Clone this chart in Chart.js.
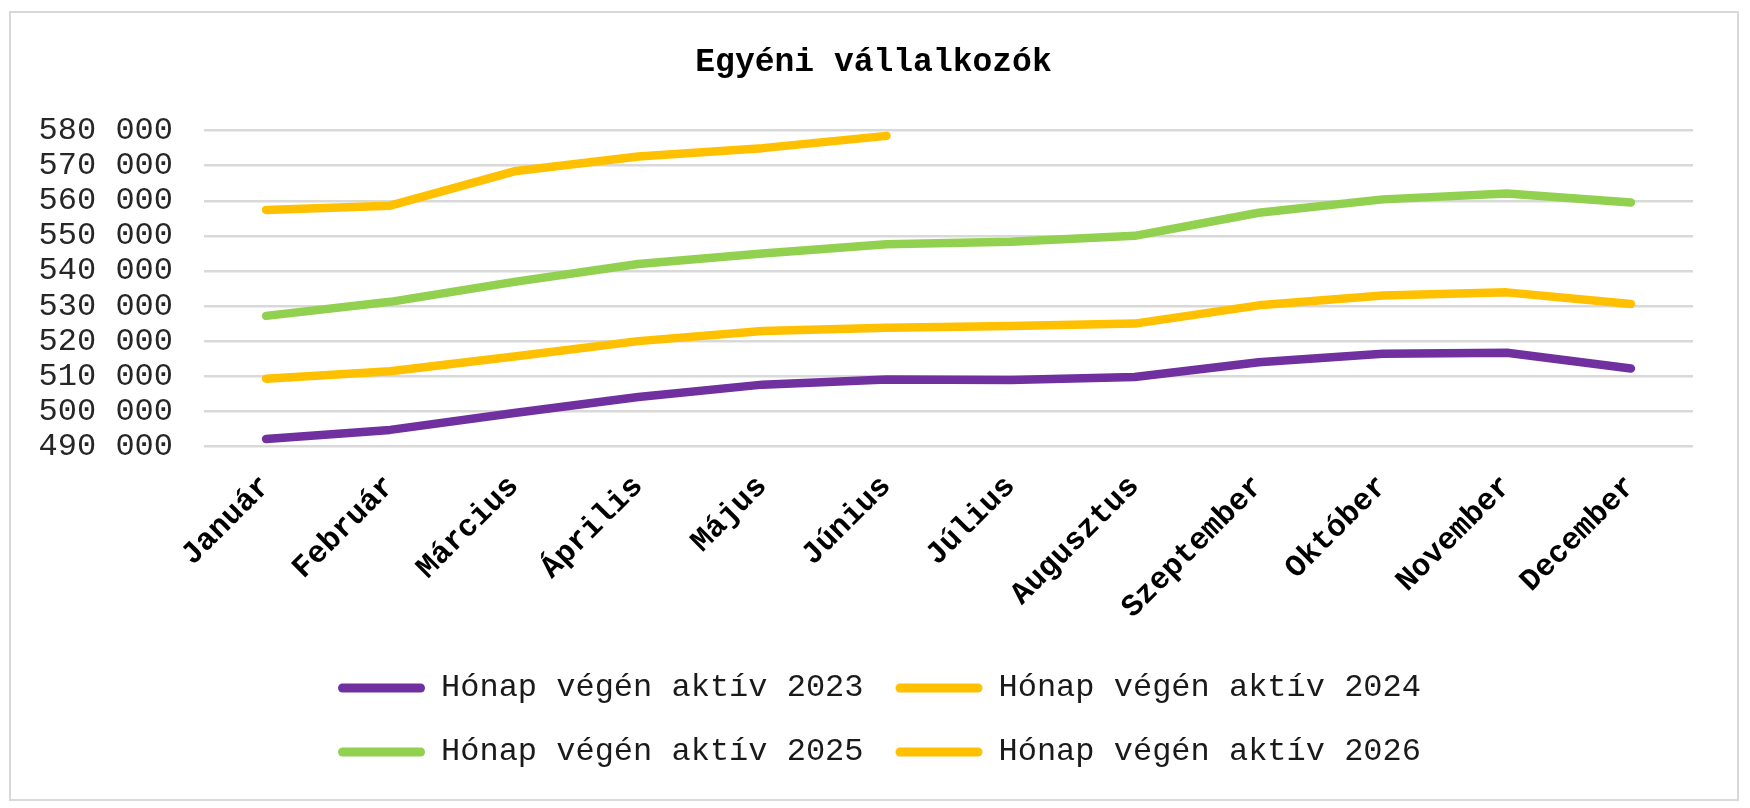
<!DOCTYPE html>
<html lang="hu">
<head>
<meta charset="utf-8">
<title>Egyéni vállalkozók</title>
<script src="https://cdn.jsdelivr.net/npm/chart.js@4.4.1/dist/chart.umd.min.js"></script>
<style>
	html, body { margin: 0; padding: 0; background: #fff; }
	#wrap { position: relative; width: 1750px; height: 808px; }
	#keret { position: absolute; left: 9px; top: 11px; width: 1726px; height: 786px; border: 2px solid #d9d9d9; pointer-events: none; }
</style>
</head>
<body>
<div id="wrap">
	<canvas id="myChart" width="1750" height="808"></canvas>
	<div id="keret"></div>
</div>
<script>
// Adatok
var honapok = ['Január', 'Február', 'Március', 'Április', 'Május', 'Június', 'Július', 'Augusztus', 'Szeptember', 'Október', 'November', 'December'];
var aktiv2023 = [492100, 494700, 499500, 504100, 507600, 509100, 508900, 509800, 514000, 516400, 516700, 512200];
var aktiv2024 = [509300, 511400, 515600, 520000, 522900, 523800, 524300, 525000, 530200, 533000, 533900, 530600];
var aktiv2025 = [527200, 531200, 536900, 542000, 545000, 547600, 548300, 550000, 556600, 560400, 562100, 559500];
var aktiv2026 = [557400, 558600, 568400, 572600, 575000, 578500, null, null, null, null, null, null];
var sorozatNevek = ['Hónap végén aktív 2023', 'Hónap végén aktív 2024', 'Hónap végén aktív 2025', 'Hónap végén aktív 2026'];
var yMin = 490000, yMax = 580000, yLepes = 10000;

var lila = '#7030A0', sarga = '#FFC000', zold = '#92D050';

Chart.defaults.font.family = '"Liberation Mono", "DejaVu Sans Mono", monospace';

function vonal(label, data, color) {
	return {
		label: label,
		data: data,
		borderColor: color,
		backgroundColor: color,
		borderWidth: 8.5,
		pointRadius: 0,
		pointHoverRadius: 0,
		tension: 0,
		borderCapStyle: 'round',
		borderJoinStyle: 'round',
		fill: false
	};
}

// ezres tagolás szóközzel
function tagol(v) {
	return String(v).replace(/\B(?=(\d{3})+(?!\d))/g, ' ');
}

// címet és jelmagyarázatot a teljes kép közepére toljuk
var kozepre = {
	id: 'kozepre',
	afterLayout: function(chart) {
		if (chart.legend) {
			chart.legend.left += 15;
			chart.legend.right += 15;
		}
		if (chart.titleBlock) {
			chart.titleBlock.left += 9;
			chart.titleBlock.right += 9;
		}
	}
};

var ctx = document.getElementById('myChart').getContext('2d');
var myChart = new Chart(ctx, {
	type: 'line',
	data: {
		labels: honapok,
		datasets: [
			vonal(sorozatNevek[0], aktiv2023, lila),
			vonal(sorozatNevek[1], aktiv2024, sarga),
			vonal(sorozatNevek[2], aktiv2025, zold),
			vonal(sorozatNevek[3], aktiv2026, sarga)
		]
	},
	plugins: [kozepre],
	options: {
		responsive: false,
		devicePixelRatio: 1,
		animation: false,
		layout: {
			padding: { top: 0, left: 36, right: 57, bottom: 30 }
		},
		plugins: {
			title: {
				display: true,
				text: 'Egyéni vállalkozók',
				color: '#000',
				font: { size: 33, weight: 'bold' },
				padding: { top: 43, bottom: 48 }
			},
			legend: {
				position: 'bottom',
				labels: {
					color: '#1a1a1a',
					font: { size: 32 },
					boxWidth: 87,
					boxHeight: 9,
					padding: 32,
					useBorderRadius: true,
					borderRadius: 4.5,
					generateLabels: function(chart) {
						return Chart.defaults.plugins.legend.labels.generateLabels(chart).map(function(item) {
							item.lineWidth = 0;
							return item;
						});
					}
				}
			},
			tooltip: { enabled: false }
		},
		scales: {
			x: {
				offset: true,
				grid: { display: false, drawTicks: false },
				border: { display: false },
				ticks: {
					color: '#000',
					font: { size: 31, weight: 'bold' },
					minRotation: 45,
					maxRotation: 45,
					autoSkip: false,
					padding: 22
				},
				afterFit: function(scale) {
					scale.height = 193.6;
				}
			},
			y: {
				min: yMin,
				max: yMax,
				grid: { color: '#d9d9d9', lineWidth: 2.5, drawTicks: false },
				border: { display: false },
				ticks: {
					stepSize: yLepes,
					autoSkip: false,
					color: '#262626',
					font: { size: 32 },
					padding: 31,
					callback: function(v) { return tagol(v); }
				},
				afterFit: function(scale) {
					scale.width = 168;
				}
			}
		}
	}
});
</script>
</body>
</html>
